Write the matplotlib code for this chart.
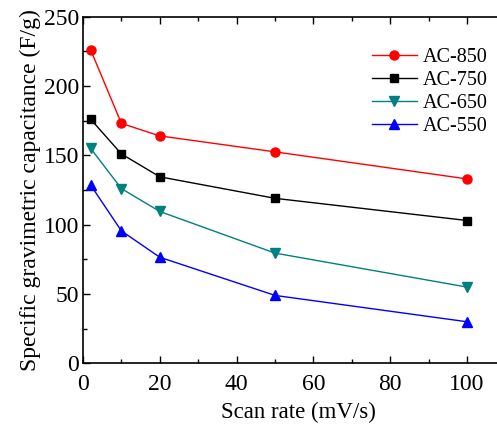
import matplotlib.pyplot as plt
from matplotlib.ticker import MultipleLocator

plt.rcParams['font.family'] = ['Liberation Serif', 'DejaVu Serif']

scan_rate = [2, 10, 20, 50, 100]
ac850 = [226, 173, 164, 152.5, 133]
ac750 = [176, 151, 134.5, 119, 103]
ac650 = [155, 126, 109.5, 79.5, 55]
ac550 = [128.5, 95.5, 76.5, 49, 30]

fig = plt.figure(figsize=(4.97, 4.26), dpi=100)
# axes run past the right edge, as in the original (no right frame visible)
ax = fig.add_axes([0.167, 0.147, 0.867, 0.814])

ax.plot(scan_rate, ac850, color='red', marker='o', ms=6.5, lw=1, label='AC-850')
ax.plot(scan_rate, ac750, color='black', marker='s', ms=5.5, lw=1, label='AC-750')
ax.plot(scan_rate, ac650, color='#008080', marker='v', ms=7, lw=1, label='AC-650')
ax.plot(scan_rate, ac550, color='blue', marker='^', ms=7, lw=1, label='AC-550')

ax.set_xlim(0, 112.2)
ax.set_ylim(0, 250)
ax.xaxis.set_major_locator(MultipleLocator(20))
ax.xaxis.set_minor_locator(MultipleLocator(10))
ax.yaxis.set_major_locator(MultipleLocator(50))
ax.yaxis.set_minor_locator(MultipleLocator(25))
ax.tick_params(which='both', direction='in', top=True, right=False, labelsize=17, width=1)
ax.tick_params(which='major', length=5)
ax.tick_params(which='minor', length=3)
ax.tick_params(axis='x', which='major', pad=7.5)
ax.tick_params(axis='y', which='major', pad=3)
ax.spines['right'].set_visible(False)
for s in ax.spines.values():
    s.set_linewidth(1.2)

ax.set_xlabel('Scan rate (mV/s)', fontsize=16.5, labelpad=5)
ax.set_ylabel('Specific gravimetric capacitance (F/g)', fontsize=17, labelpad=2)

ax.legend(loc='upper right', bbox_to_anchor=(0.982, 0.962), frameon=False, fontsize=14.5,
          handlelength=2.25, handletextpad=0.3, labelspacing=0.2)

fig.savefig('out.png', dpi=100)
